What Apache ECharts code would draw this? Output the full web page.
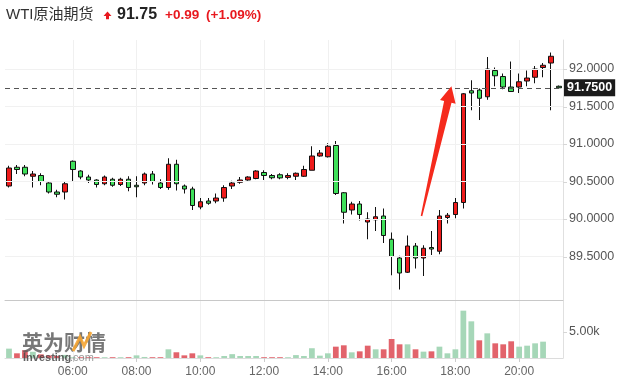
<!DOCTYPE html>
<html><head><meta charset="utf-8">
<script src="https://cdn.jsdelivr.net/npm/echarts@6/dist/echarts.min.js"></script>
<style>html,body{margin:0;padding:0;background:#fff}#c{width:626px;height:391px}</style>
</head><body><div id="c"></div>
<script>
const times = ["04:00","04:15","04:30","04:45","05:00","05:15","05:30","05:45","06:00","06:15","06:30","06:45","07:00","07:15","07:30","07:45","08:00","08:15","08:30","08:45","09:00","09:15","09:30","09:45","10:00","10:15","10:30","10:45","11:00","11:15","11:30","11:45","12:00","12:15","12:30","12:45","13:00","13:15","13:30","13:45","14:00","14:15","14:30","14:45","15:00","15:15","15:30","15:45","16:00","16:15","16:30","16:45","17:00","17:15","17:30","17:45","18:00","18:15","18:30","18:45","19:00","19:15","19:30","19:45","20:00","20:15","20:30","20:45","21:00","21:15"];
const opens  = [90.44,90.69,90.69,90.57,90.58,90.48,90.36,90.36,90.77,90.64,90.56,90.52,90.47,90.53,90.46,90.53,90.45,90.48,90.60,90.48,90.42,90.73,90.44,90.40,90.16,90.24,90.24,90.28,90.44,90.49,90.52,90.54,90.62,90.58,90.59,90.555,90.57,90.57,90.65,90.84,90.83,90.98,90.35,90.12,90.20,89.96,89.99,90.04,89.73,89.48,89.29,89.64,89.48,89.62,89.57,90.02,90.06,90.22,91.71,91.72,91.63,91.98,91.90,91.76,91.76,91.84,91.89,92.02,92.08,91.77];
const closes = [90.68,90.66,90.60,90.60,90.50,90.36,90.33,90.47,90.66,90.56,90.52,90.46,90.56,90.45,90.53,90.42,90.43,90.60,90.50,90.42,90.73,90.47,90.40,90.18,90.23,90.21,90.28,90.42,90.48,90.52,90.56,90.64,90.58,90.55,90.548,90.58,90.61,90.66,90.84,90.88,90.97,90.34,90.09,90.20,90.06,90.00,90.03,89.78,89.50,89.28,89.64,89.48,89.61,89.60,90.04,90.05,90.22,91.67,91.68,91.61,92.00,91.91,91.76,91.70,91.83,91.88,92.00,92.05,92.17,91.75];
const lows   = [90.42,90.60,90.57,90.42,90.45,90.34,90.29,90.26,90.50,90.53,90.48,90.42,90.45,90.43,90.44,90.37,90.29,90.45,90.46,90.40,90.39,90.38,90.34,90.12,90.13,90.19,90.21,90.23,90.40,90.47,90.51,90.53,90.52,90.53,90.53,90.53,90.52,90.56,90.65,90.83,90.82,90.32,89.94,90.06,89.98,89.73,89.84,89.68,89.25,89.06,89.28,89.34,89.24,89.52,89.53,89.94,90.01,90.14,91.45,91.32,91.59,91.77,91.73,91.70,91.68,91.77,91.81,91.89,91.45,91.75];
const highs  = [90.71,90.72,90.72,90.64,90.61,90.49,90.39,90.50,90.78,90.65,90.59,90.53,90.58,90.55,90.55,90.57,90.57,90.62,90.64,90.53,90.81,90.79,90.46,90.43,90.28,90.28,90.34,90.45,90.51,90.56,90.57,90.65,90.65,90.60,90.61,90.61,90.62,90.71,90.97,90.92,91.01,91.04,90.36,90.23,90.24,90.09,90.16,90.14,89.82,89.51,89.78,89.68,89.65,89.84,90.12,90.08,90.28,91.68,91.85,91.74,92.16,92.02,91.94,92.10,91.94,91.98,92.04,92.08,92.22,91.78];
const volumes = [1800,900,1500,1200,700,500,400,600,150,150,150,150,150,150,150,150,510,200,150,150,1670,1100,510,900,510,150,150,380,740,380,380,380,150,150,150,150,560,380,1880,450,900,2180,2440,1090,1280,2370,1670,1670,3650,2630,2630,1670,1220,1280,2180,900,1670,9100,7050,3400,4740,2820,2630,3210,2180,2370,2820,3140,null,null];
const xTickLabels = ["06:00","08:00","10:00","12:00","14:00","16:00","18:00","20:00"];
const priceTickLabels = [89.5,90,90.5,91,91.5,92];
const volumeTickLabels = [5000];
const lastPrice = 91.75;
const arrowFrom = [51.75, 90.04];
const arrowTo = [55.5, 91.77];

const UP = '#ee1b1b', DOWN = '#3fe05a';
const VUP = '#a6d7b8', VDOWN = '#e2636b';
const FONT = "'Liberation Sans', Arial, 'Noto Sans CJK SC', sans-serif";

const chart = echarts.init(document.getElementById('c'), null, {renderer: 'canvas'});
const showTick = (idx, val) => xTickLabels.indexOf(val) >= 0;

const candleData = times.map((t, i) => [opens[i], closes[i], lows[i], highs[i]]);
const volData = volumes.map((v, i) => {
  const prev = i > 0 ? closes[i - 1] : opens[i];
  return {value: v, itemStyle: {color: closes[i] >= prev ? VUP : VDOWN}};
});

function baseGraphics() {
  return [
    {id: 't1', type: 'text', x: 6, y: 15, z: 100, style: {text: 'WTI原油期货', font: "15px " + FONT, fill: '#333', verticalAlign: 'middle'}},
    {id: 't2', type: 'polygon', z: 100, shape: {points: [[103.5,16],[107.5,11.5],[111.5,16],[109,16],[109,19.3],[106,19.3],[106,16]]}, style: {fill: '#e8181e'}},
    {id: 't3', type: 'text', x: 117, y: 15, z: 100, style: {text: '91.75', font: "bold 16px " + FONT, fill: '#222', verticalAlign: 'middle'}},
    {id: 't4', type: 'text', x: 165, y: 15, z: 100, style: {text: '+0.99', font: "bold 13.5px " + FONT, fill: '#e8181e', verticalAlign: 'middle'}},
    {id: 't5', type: 'text', x: 206, y: 15, z: 100, style: {text: '(+1.09%)', font: "bold 13.5px " + FONT, fill: '#e8181e', verticalAlign: 'middle'}},
    {id: 'w1', type: 'text', x: 22, y: 342, z: 100, style: {text: '英为财情', font: "bold 21px 'Noto Sans CJK SC'", fill: 'rgba(85,85,85,0.8)', verticalAlign: 'middle'}},
    {id: 'w2', type: 'polyline', z: 101, shape: {points: [[73,351],[80,337],[84,346],[91,332]]}, style: {stroke: 'rgba(246,165,50,0.9)', lineWidth: 3, fill: null}},
    {id: 'w3', type: 'text', x: 23, y: 358, z: 100, style: {text: 'Investing', font: "bold 11px " + FONT, fill: 'rgba(70,70,70,0.85)', verticalAlign: 'middle'}},
    {id: 'w4', type: 'text', x: 70, y: 358, z: 100, style: {text: '.com', font: "11px " + FONT, fill: 'rgba(120,120,120,0.75)', verticalAlign: 'middle'}}
  ];
}

const option = {
  animation: false,
  backgroundColor: '#fff',
  grid: [
    {left: 5, right: 63, top: 40, bottom: 91},
    {left: 5, right: 63, top: 300, bottom: 33}
  ],
  xAxis: [
    {type: 'category', gridIndex: 0, data: times, boundaryGap: true,
     axisLine: {show: true, lineStyle: {color: '#c8c8c8'}}, axisTick: {show: false}, axisLabel: {show: false},
     splitLine: {show: true, interval: showTick, alignWithLabel: true, lineStyle: {color: '#f0f0f0'}}},
    {type: 'category', gridIndex: 1, data: times, boundaryGap: true,
     axisLine: {show: true, lineStyle: {color: '#dcdcdc'}},
     axisTick: {show: true, interval: showTick, alignWithLabel: true, length: 4, lineStyle: {color: '#ccc'}},
     axisLabel: {show: true, interval: showTick, color: '#666', fontSize: 12, fontFamily: FONT, margin: 8},
     splitLine: {show: true, interval: showTick, alignWithLabel: true, lineStyle: {color: '#f0f0f0'}}}
  ],
  yAxis: [
    {type: 'value', gridIndex: 0, position: 'right', min: 88.92, max: 92.387, splitNumber: 7, scale: true,
     axisLine: {show: true, lineStyle: {color: '#e0e0e0'}},
     axisTick: {show: false},
     axisLabel: {color: '#555', fontSize: 12.5, fontFamily: FONT, margin: 6, showMinLabel: false, showMaxLabel: false,
       formatter: v => priceTickLabels.some(p => Math.abs(p - v) < 1e-6) ? v.toFixed(4) : ''},
     splitLine: {show: false}},
    {type: 'value', gridIndex: 1, position: 'right', min: 0, max: 11150, interval: 5000,
     axisLine: {show: true, lineStyle: {color: '#e0e0e0'}},
     axisTick: {show: false},
     axisLabel: {color: '#555', fontSize: 12.5, fontFamily: FONT, margin: 6,
       formatter: v => volumeTickLabels.indexOf(v) >= 0 ? (v / 1000).toFixed(2) + 'k' : ''},
     splitLine: {show: false}}
  ],
  series: [
    {type: 'line', xAxisIndex: 0, yAxisIndex: 0, data: [], z: 1, silent: true,
     markLine: {silent: true, symbol: 'none', data: priceTickLabels.map(v => ({yAxis: v})),
       lineStyle: {type: 'solid', color: '#f1f1f1', width: 1}, label: {show: false}}},
    {type: 'candlestick', xAxisIndex: 0, yAxisIndex: 0, data: candleData, barWidth: 5, z: 3,
     itemStyle: {color: UP, color0: DOWN, borderColor: '#111', borderColor0: '#111', borderWidth: 1},
     markLine: {silent: true, symbol: 'none', data: [{yAxis: lastPrice}],
       lineStyle: {type: [5, 4], color: '#555', width: 1},
       label: {position: 'end', distance: 1, formatter: lastPrice.toFixed(4), backgroundColor: '#1b1b1b', color: '#fff',
         fontWeight: 'bold', fontSize: 12.5, fontFamily: FONT, padding: [2, 3, 2, 3], lineHeight: 13}}},
    {type: 'bar', xAxisIndex: 1, yAxisIndex: 1, data: volData, barWidth: '72%'},
    {type: 'line', xAxisIndex: 0, yAxisIndex: 0, data: [], silent: true,
     markLine: {silent: true, symbol: 'none', data: priceTickLabels.map(v => [{xAxis: times.length - 1, yAxis: v, x: 563}, {yAxis: v, x: 567}]),
       lineStyle: {type: 'solid', color: '#d8d8d8', width: 1}, label: {show: false}}}
  ],
  graphic: {elements: baseGraphics()}
};
option.series.pop();
chart.setOption(option);

// red annotation arrow, positioned through the chart's own scales
const xFirst = chart.convertToPixel({xAxisIndex: 0}, times[0]);
const xLast = chart.convertToPixel({xAxisIndex: 0}, times[times.length - 1]);
const px = i => xFirst + (xLast - xFirst) * i / (times.length - 1);
const py = v => chart.convertToPixel({yAxisIndex: 0}, v);
const T = [px(arrowFrom[0]), py(arrowFrom[1])];
const P = [px(arrowTo[0]), py(arrowTo[1])];
const dx = P[0] - T[0], dy = P[1] - T[1];
const L = Math.sqrt(dx * dx + dy * dy);
const ux = dx / L, uy = dy / L, nx = -uy, ny = ux;
const headLen = 16, headHalf = 8, shaftTail = 0.8, shaftHead = 3.8;
const B = [P[0] - ux * headLen, P[1] - uy * headLen];
const pts = [
  [T[0] + nx * shaftTail, T[1] + ny * shaftTail],
  [B[0] + nx * shaftHead, B[1] + ny * shaftHead],
  [B[0] + nx * headHalf, B[1] + ny * headHalf],
  [P[0], P[1]],
  [B[0] - nx * headHalf, B[1] - ny * headHalf],
  [B[0] - nx * shaftHead, B[1] - ny * shaftHead],
  [T[0] - nx * shaftTail, T[1] - ny * shaftTail]
];
const g = baseGraphics();
// small outward ticks on the price axis at the labelled values
const axisX = chart.convertToPixel({gridIndex: 0}, [times.length - 1, priceTickLabels[0]])[0];
priceTickLabels.forEach((v, k) => {
  const y = Math.round(py(v)) + 0.5;
  g.push({id: 'pt' + k, type: 'line', z: 40, shape: {x1: xLast + 4, y1: y, x2: xLast + 8, y2: y}, style: {stroke: '#d6d6d6', lineWidth: 1}});
});
const vy = Math.round(chart.convertToPixel({yAxisIndex: 1}, volumeTickLabels[0])) + 0.5;
g.push({id: 'vt', type: 'line', z: 40, shape: {x1: xLast + 4, y1: vy, x2: xLast + 8, y2: vy}, style: {stroke: '#d6d6d6', lineWidth: 1}});
g.push({id: 'arrow', type: 'polygon', z: 50, shape: {points: pts}, style: {fill: '#f52a1d'}});
chart.setOption({graphic: {elements: g}});
</script>
</body></html>
